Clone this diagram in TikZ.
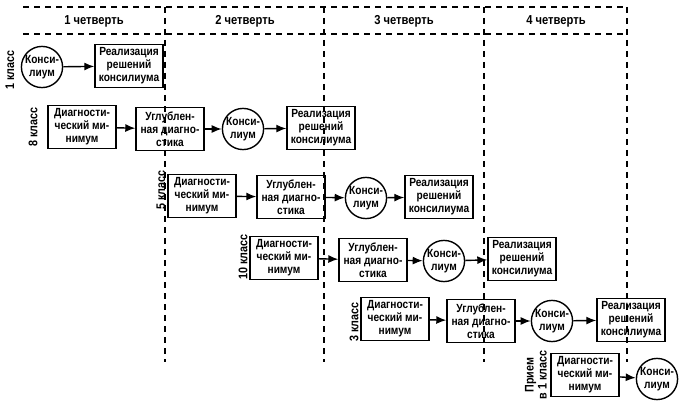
\documentclass[tikz,border=0pt]{standalone}
\usepackage{fontspec}
\setmainfont{Liberation Sans}
\newfontfamily\narrowfont[FakeStretch=0.86]{Liberation Sans Bold}
\usetikzlibrary{arrows.meta}
\begin{document}
\begin{tikzpicture}[x=1pt,y=-1pt,
  txt/.style={font=\narrowfont\fontsize{11.8}{13}\selectfont},
  stepbox/.style={txt,draw,line width=1.4pt,minimum width=68pt,minimum height=43pt,align=center,inner sep=0.5pt},
  konsil/.style={txt,draw,circle,line width=1.4pt,minimum size=41pt,align=center,inner sep=0pt},
  arr/.style={line width=1.4pt,-{Latex[length=10pt,width=8pt]}},
  dashline/.style={line width=1.3pt,dash pattern=on 6pt off 5pt},
  quarter/.style={font=\narrowfont\fontsize{13}{14}\selectfont},
  rowlab/.style={font=\narrowfont\fontsize{12.5}{13}\selectfont,rotate=90,align=center}]
\useasboundingbox (0,0) rectangle (685,414);
% grid
\draw[dashline] (23,7) -- (627,7);
\draw[dashline] (23,34) -- (627,34);
\foreach \xx in {165,324,484,627} \draw[dashline] (\xx,7) -- (\xx,362);
\node[quarter] (q1) at (94,21) {1 четверть};
\node[quarter] (q2) at (245,21) {2 четверть};
\node[quarter] (q3) at (404,21) {3 четверть};
\node[quarter] (q4) at (556,21) {4 четверть};
% row 1
\node[rowlab] (l1) at (10,70) {1 класс};
\node[konsil] (k1) at (42,67) {Конси-\\лиум};
\node[stepbox] (r1) at (129,66) {Реализация\\решений\\консилиума};
\draw[arr] (k1) -- (r1);
% row 2
\node[rowlab] (l2) at (33,127) {8 класс};
\node[stepbox] (d2) at (82,127) {Диагности-\\ческий ми-\\нимум};
\node[stepbox] (u2) at (170,129) {Углублен-\\ная диагно-\\стика};
\node[konsil] (k2) at (243,129) {Конси-\\лиум};
\node[stepbox] (r2) at (321,128) {Реализация\\решений\\консилиума};
\draw[arr] (d2) -- (u2);
\draw[arr] (u2) -- (k2);
\draw[arr] (k2) -- (r2);
% row 3
\node[rowlab] (l3) at (161,190) {5 класс};
\node[stepbox] (d3) at (202,196) {Диагности-\\ческий ми-\\нимум};
\node[stepbox] (u3) at (291,197) {Углублен-\\ная диагно-\\стика};
\node[konsil] (k3) at (366,198) {Конси-\\лиум};
\node[stepbox] (r3) at (439,197) {Реализация\\решений\\консилиума};
\draw[arr] (d3) -- (u3);
\draw[arr] (u3) -- (k3);
\draw[arr] (k3) -- (r3);
% row 4
\node[rowlab] (l4) at (243,257) {10 класс};
\node[stepbox] (d4) at (284,258) {Диагности-\\ческий ми-\\нимум};
\node[stepbox] (u4) at (373,260) {Углублен-\\ная диагно-\\стика};
\node[konsil] (k4) at (444,261) {Конси-\\лиум};
\node[stepbox] (r4) at (522,259) {Реализация\\решений\\консилиума};
\draw[arr] (d4) -- (u4);
\draw[arr] (u4) -- (k4);
\draw[arr] (k4) -- (r4);
% row 5
\node[rowlab] (l5) at (354,322) {3 класс};
\node[stepbox] (d5) at (395,319) {Диагности-\\ческий ми-\\нимум};
\node[stepbox] (u5) at (481,321) {Углублен-\\ная диагно-\\стика};
\node[konsil] (k5) at (552,321) {Конси-\\лиум};
\node[stepbox] (r5) at (631,320) {Реализация\\решений\\консилиума};
\draw[arr] (d5) -- (u5);
\draw[arr] (u5) -- (k5);
\draw[arr] (k5) -- (r5);
% row 6
\node[rowlab] (l6) at (536,375) {Прием\\в 1 класс};
\node[stepbox] (d6) at (585,375) {Диагности-\\ческий ми-\\нимум};
\node[konsil] (k6) at (657,379) {Конси-\\лиум};
\draw[arr] (d6) -- (k6);
\end{tikzpicture}
\end{document}
